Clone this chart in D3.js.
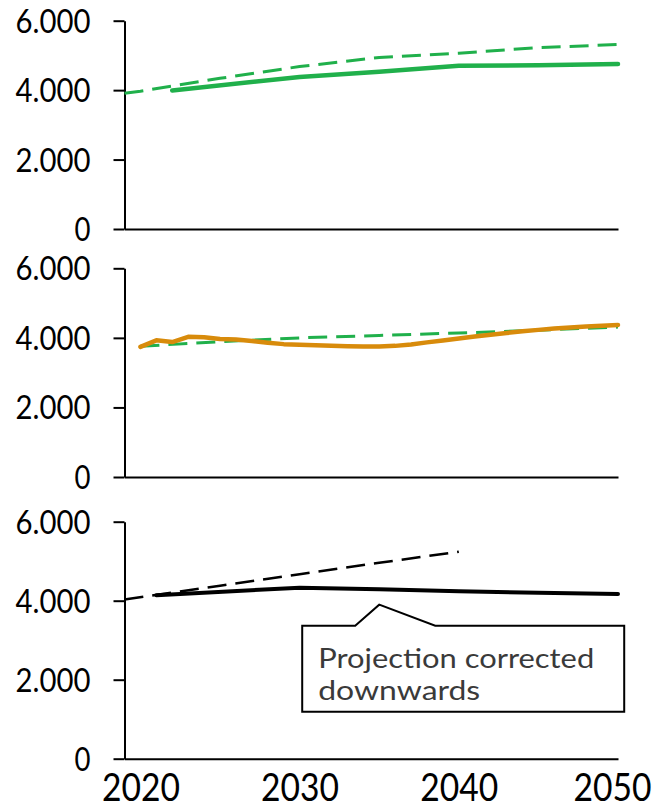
<!DOCTYPE html>
<html>
<head>
<meta charset="utf-8">
<script src="https://cdn.jsdelivr.net/npm/d3@7"></script>
<style>
  html, body { margin: 0; padding: 0; background: #fff; }
  svg { display: block; }
</style>
</head>
<body>
<script>
// Shared axes
const yTicks = [0, 2000, 4000, 6000];
const xTicks = [2020, 2030, 2040, 2050];

// Panel 1: earlier projection (dashed) and updated projection (solid)
const p1ProjYears  = [2019, 2020, 2025, 2030, 2035, 2040, 2045, 2050];
const p1ProjValues = [3910, 3970, 4340, 4680, 4940, 5065, 5225, 5315];
const p1Years  = [2022, 2030, 2035, 2040, 2045, 2050];
const p1Values = [3990, 4380, 4530, 4700, 4720, 4750];

// Panel 2: yearly series (orange) and projection (dashed green)
const p2Years = d3.range(2020, 2051);
const p2Values = [3740, 3930, 3880, 4030, 4020, 3970, 3950, 3910, 3860, 3820,
                  3800, 3790, 3775, 3760, 3750, 3750, 3770, 3810, 3870, 3925,
                  3980, 4040, 4090, 4140, 4190, 4230, 4270, 4300, 4325, 4350, 4370];
const p2ProjYears  = [2020, 2025, 2030, 2035, 2040, 2045, 2050];
const p2ProjValues = [3760, 3890, 4000, 4070, 4140, 4220, 4310];

// Panel 3: old projection (dashed) and corrected projection (solid)
const p3ProjYears  = [2019, 2025, 2030, 2035, 2040];
const p3ProjValues = [4030, 4380, 4670, 4960, 5240];
const p3Years  = [2021, 2030, 2035, 2040, 2045, 2050];
const p3Values = [4140, 4330, 4290, 4240, 4200, 4170];

const noteLines = ["Projection corrected", "downwards"];
const noteAnchor = { year: 2035, value: 3900 };

const W = 661, H = 810;
const GREEN = "#20b04b", ORANGE = "#d88b0b", BLACK = "#000";
const FONT = "Lato, 'Open Sans', 'DejaVu Sans', sans-serif";

const svg = d3.select("body").append("svg")
  .attr("width", W).attr("height", H);

const x = d3.scaleLinear().domain([2019, 2050]).range([124.5, 618]);

const panels = [
  { top: 20.7, bottom: 229,
    series: [
      { years: p1ProjYears, values: p1ProjValues, color: GREEN, width: 3, dash: "19,9" },
      { years: p1Years, values: p1Values, color: GREEN, width: 4.5 }
    ] },
  { top: 268.3, bottom: 477,
    series: [
      { years: p2ProjYears, values: p2ProjValues, color: GREEN, width: 3, dash: "19,9" },
      { years: p2Years, values: p2Values, color: ORANGE, width: 4.5 }
    ] },
  { top: 521.7, bottom: 758.7, xLabels: true,
    series: [
      { years: p3ProjYears, values: p3ProjValues, color: BLACK, width: 2.5, dash: "19,9" },
      { years: p3Years, values: p3Values, color: BLACK, width: 4 }
    ] }
];

panels.forEach((p, i) => {
  const y = d3.scaleLinear().domain([0, 6000]).range([p.bottom, p.top]);
  p.y = y;
  const g = svg.append("g");

  // y axis
  const ya = g.append("g")
    .attr("transform", `translate(${x.range()[0]},0)`)
    .call(d3.axisLeft(y).tickValues(yTicks).tickSize(11).tickSizeOuter(0)
      .tickFormat(d => d3.format(",")(d).replace(/,/g, ".")));
  ya.select(".domain").attr("stroke", "#000").attr("stroke-width", 2);
  ya.selectAll(".tick line").attr("stroke", "#000").attr("stroke-width", 2);
  ya.selectAll(".tick text")
    .attr("x", -34)
    .attr("dy", "0.36em")
    .attr("fill", "#000")
    .style("font-family", FONT)
    .style("font-size", "32px")
    .attr("textLength", d => d === 0 ? 16 : 75)
    .attr("lengthAdjust", "spacingAndGlyphs");

  // x axis
  const xa = g.append("g")
    .attr("transform", `translate(0,${p.bottom})`)
    .call(d3.axisBottom(x).tickValues(p.xLabels ? xTicks : []).tickSize(0).tickSizeOuter(0)
      .tickFormat(d3.format("d")));
  xa.select(".domain").attr("stroke", "#000").attr("stroke-width", 2);
  xa.selectAll(".tick text")
    .attr("y", 42)
    .attr("dy", 0)
    .attr("dx", d => d === 2050 ? -6 : 0)
    .attr("fill", "#000")
    .style("font-family", FONT)
    .style("font-size", "38px")
    .attr("textLength", 78)
    .attr("lengthAdjust", "spacingAndGlyphs");

  // series
  const line = d3.line().x(d => x(d[0])).y(d => y(d[1]));
  p.series.forEach(s => {
    g.append("path")
      .datum(s.years.map((yr, k) => [yr, s.values[k]]))
      .attr("d", line)
      .attr("fill", "none")
      .attr("stroke", s.color)
      .attr("stroke-width", s.width)
      .attr("stroke-dasharray", s.dash || null)
      .attr("stroke-linejoin", "round")
      .attr("stroke-linecap", s.dash ? "butt" : "round");
  });
});

// Callout on the bottom panel
const p3 = panels[2];
const ax = x(noteAnchor.year), ay = p3.y(noteAnchor.value);
const box = { left: ax - 77, right: ax + 245, top: ay + 21, bottom: ay + 107 };
const callout = [
  [box.left, box.top], [ax - 24, box.top], [ax, ay], [ax + 56, box.top],
  [box.right, box.top], [box.right, box.bottom], [box.left, box.bottom]
];
svg.append("path")
  .attr("d", d3.line()(callout) + "Z")
  .attr("fill", "#fff")
  .attr("stroke", "#000")
  .attr("stroke-width", 2);

svg.append("g").selectAll("text")
  .data(noteLines)
  .join("text")
  .attr("x", box.left + 16)
  .attr("y", (d, k) => box.top + 42 + k * 32)
  .attr("fill", "#3a3a3a")
  .style("font-family", FONT)
  .style("font-size", "27px")
  .attr("textLength", (d, k) => k === 0 ? 276 : 162)
  .attr("lengthAdjust", "spacingAndGlyphs")
  .text(d => d);
</script>
</body>
</html>
